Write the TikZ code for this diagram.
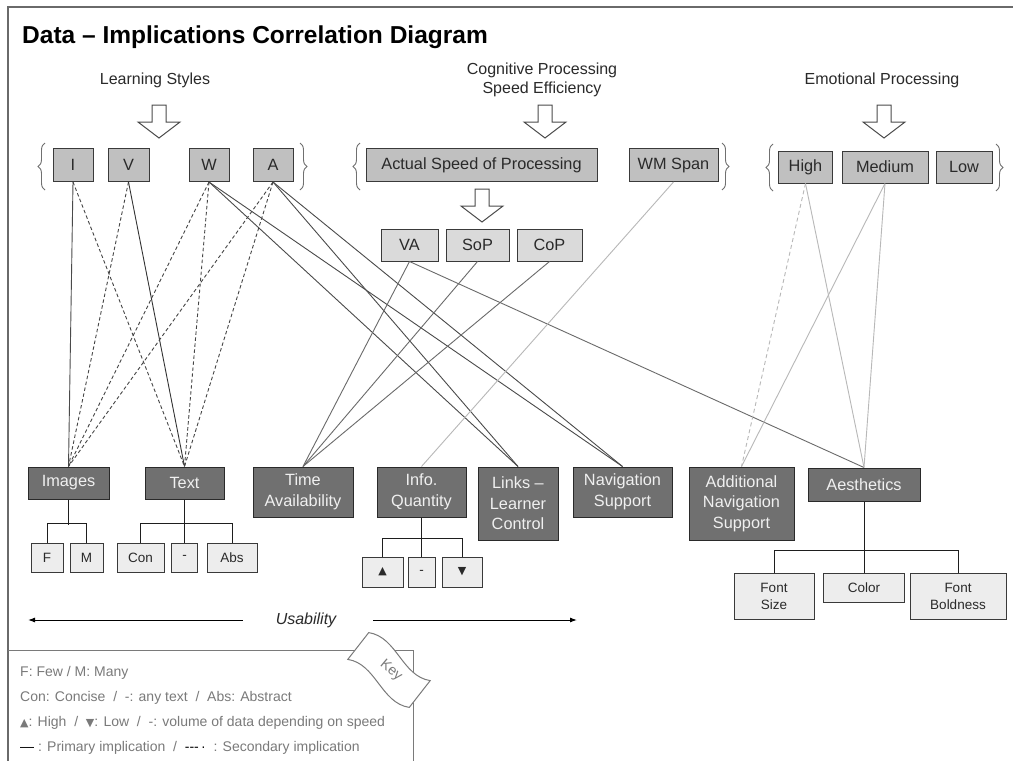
\documentclass[tikz,border=0pt]{standalone}
\usepackage{fontspec}
\setmainfont{Liberation Sans}
\newfontfamily\symfont{DejaVu Sans}
\usetikzlibrary{decorations.pathreplacing,arrows.meta}
\definecolor{topfill}{HTML}{C0C0C0}
\definecolor{midfill}{HTML}{DADADA}
\definecolor{darkfill}{HTML}{707070}
\definecolor{subfill}{HTML}{EDEDED}
\definecolor{boxline}{HTML}{3A3A3A}
\definecolor{darkline}{HTML}{2A2A2A}
\definecolor{txt}{HTML}{2A2A2A}
\definecolor{darktxt}{HTML}{F0F0F0}
\definecolor{primc}{HTML}{4A4A4A}
\definecolor{secc}{HTML}{454545}
\definecolor{midc}{HTML}{6A6A6A}
\definecolor{lightc}{HTML}{B8B8B8}
\definecolor{treec}{HTML}{1E1E1E}
\definecolor{bracec}{HTML}{707070}
\definecolor{arrowc}{HTML}{4A4A4A}
\definecolor{framec}{HTML}{6A6A6A}
\definecolor{keyc}{HTML}{7A7A7A}
\newcommand\titlefnt{\fontsize{24.5}{28}\selectfont\bfseries}
\newcommand\lblfnt{\fontsize{16}{19}\selectfont}
\newcommand\boxfnt{\fontsize{16.3}{20.5}\selectfont}
\newcommand\subfnt{\fontsize{13.5}{17}\selectfont}
\newcommand\keyfnt{\fontsize{14}{16}\selectfont}
\tikzset{
  box/.style={draw=boxline, line width=1pt, inner sep=0pt, align=center, font=\boxfnt},
  topbox/.style={box, fill=topfill, text=txt},
  midbox/.style={box, fill=midfill, text=txt},
  darkbox/.style={box, fill=darkfill, text=darktxt, draw=darkline},
  subbox/.style={box, fill=subfill, text=txt, font=\subfnt},
  prim/.style={draw=primc, line width=0.9pt},
  sec/.style={draw=secc, line width=0.9pt, dash pattern=on 3.5pt off 2.5pt},
  midline/.style={draw=midc, line width=0.9pt},
  light/.style={draw=lightc, line width=0.9pt},
  lightdash/.style={draw=lightc, line width=0.9pt, dash pattern=on 4pt off 3pt},
  tree/.style={draw=treec, line width=1pt},
  bracestyle/.style={draw=bracec, line width=0.9pt, decorate, decoration={brace, amplitude=7pt}},
  blockarrow/.style={draw=arrowc, line width=1pt, fill=white, line join=miter},
  lbl/.style={font=\lblfnt, text=txt, align=center, inner sep=0pt},
  keytext/.style={font=\keyfnt, text=keyc, anchor=west, inner sep=0pt},
  usearrow/.style={draw=black, line width=1pt, -{Latex[length=7pt,width=5pt]}},
}
\begin{document}
\begin{tikzpicture}[x=1pt,y=-1pt]
\useasboundingbox (0,0) rectangle (1013,761);
\fill[white] (0,0) rectangle (1013,761);
% frame
\draw[draw=framec, line width=2pt] (8,761) -- (8,7) -- (1013,7);
% title
\node[anchor=base west, inner sep=0pt, font=\titlefnt] (title) at (22,43) {Data – Implications Correlation Diagram};
% group labels
\node[lbl] (lsl) at (155,80) {Learning Styles};
\node[lbl] (cpl) at (542,80) {Cognitive Processing\\Speed Efficiency};
\node[lbl] (epl) at (882,80) {Emotional Processing};
% block arrows
\foreach \cx/\ty in {159/105, 545/105, 884/105, 482/189}{
  \draw[blockarrow, shift={(\cx,\ty)}] (-7,0) -- (7,0) -- (7,17) -- (21,17) -- (0,33) -- (-21,17) -- (-7,17) -- cycle;
}
% braces
\draw[bracestyle] (45,190) -- (45,143);
\draw[bracestyle] (300,143) -- (300,190);
\draw[bracestyle] (360,190) -- (360,143);
\draw[bracestyle] (722,143) -- (722,190);
\draw[bracestyle] (773,191) -- (773,144);
\draw[bracestyle] (996,144) -- (996,191);
% top boxes
\node[topbox, minimum width=40, minimum height=33] (I) at (73,165) {I};
\node[topbox, minimum width=41, minimum height=33] (V) at (128.5,165) {V};
\node[topbox, minimum width=40, minimum height=33] (W) at (209,165) {W};
\node[topbox, minimum width=40, minimum height=33] (A) at (273,165) {A};
\node[topbox, minimum width=231, minimum height=33] (ASP) at (481.5,165) {Actual Speed of Processing};
\node[topbox, minimum width=89, minimum height=33] (WM) at (673.5,165) {WM Span};
\node[topbox, minimum width=54, minimum height=32] (High) at (805.5,167) {High};
\node[topbox, minimum width=86, minimum height=32] (Medium) at (885,167) {Medium};
\node[topbox, minimum width=56, minimum height=32] (Low) at (964,167) {Low};
% mid boxes
\node[midbox, minimum width=57, minimum height=32] (VA) at (409.5,245) {VA};
\node[midbox, minimum width=63, minimum height=32] (SoP) at (477.5,245) {SoP};
\node[midbox, minimum width=65, minimum height=32] (CoP) at (549.5,245) {CoP};
% bottom boxes
\node[darkbox, minimum width=81, minimum height=32] (Images) at (68.5,483) {Images};
\node[darkbox, minimum width=79, minimum height=32] (Text) at (184.5,483) {Text};
\node[darkbox, minimum width=100, minimum height=50] (Time) at (303,492) {Time\\Availability};
\node[darkbox, minimum width=89, minimum height=50] (Info) at (421.5,492) {Info.\\Quantity};
\node[darkbox, minimum width=80, minimum height=73] (Links) at (518,503.5) {Links –\\Learner\\Control};
\node[darkbox, minimum width=99, minimum height=50] (Nav) at (622.5,492) {Navigation\\Support};
\node[darkbox, minimum width=105, minimum height=73] (Addl) at (741.5,503.5) {Additional\\Navigation\\Support};
\node[darkbox, minimum width=112, minimum height=33] (Aesth) at (864,484.5) {Aesthetics};
% sub boxes
\node[subbox, minimum width=32, minimum height=29] (F) at (47,557.5) {F};
\node[subbox, minimum width=33, minimum height=29] (M) at (86.5,557.5) {M};
\node[subbox, minimum width=47, minimum height=29] (Con) at (140.5,557.5) {Con};
\node[subbox, minimum width=26, minimum height=29] (Tdash) at (184.5,557.5) {-};
\node[subbox, minimum width=50, minimum height=29] (Abs) at (232,557.5) {Abs};
\node[subbox, minimum width=41, minimum height=30] (Up) at (382.5,572) {\symfont\fontsize{11}{13}\selectfont ▲};
\node[subbox, minimum width=27, minimum height=30] (Idash) at (421.5,572) {-};
\node[subbox, minimum width=40, minimum height=30] (Down) at (462,572) {\symfont\fontsize{11}{13}\selectfont ▼};
\node[subbox, minimum width=80, minimum height=46] (FS) at (774,596.5) {Font\\Size};
\node[subbox, minimum width=81, minimum height=29] (Col) at (864,588) {Color};
\node[subbox, minimum width=96, minimum height=46] (FB) at (958,596.5) {Font\\Boldness};
% tree connectors
\draw[tree] (Images.south) -- ++(0,25);
\draw[tree] (F.north) -- ++(0,-19) -| (M.north);
\draw[tree] (Text.south) -- (Tdash.north);
\draw[tree] (Con.north) -- ++(0,-19) -| (Abs.north);
\draw[tree] (Info.south) -- (Idash.north);
\draw[tree] (Up.north) -- ++(0,-18) -| (Down.north);
\draw[tree] (Aesth.south) -- (Col.north);
\draw[tree] (FS.north) -- ++(0,-22.5) -| (FB.north);
% learning style connectors
\draw[prim] (I.south) -- (Images.north);
\draw[sec] (I.south) -- (Text.north);
\draw[sec] (V.south) -- (Images.north);
\draw[prim, draw=black!80] (V.south) -- (Text.north);
\draw[sec] (W.south) -- (Images.north);
\draw[sec] (W.south) -- (Text.north);
\draw[sec] (A.south) -- (Images.north);
\draw[sec] (A.south) -- (Text.north);
\draw[prim] (W.south) -- (Links.north);
\draw[prim] (W.south) -- (Nav.north);
\draw[prim] (A.south) -- (Links.north);
\draw[prim] (A.south) -- (Nav.north);
% cognitive connectors
\draw[midline] (VA.south) -- (Time.north);
\draw[midline] (SoP.south) -- (Time.north);
\draw[midline] (CoP.south) -- (Time.north);
\draw[midline] (VA.south) -- (Aesth.north);
\draw[light] (WM.south) -- (Info.north);
% emotional connectors
\draw[lightdash] (High.south) -- (Addl.north);
\draw[light] (High.south) -- (Aesth.north);
\draw[light] (Medium.south) -- (Addl.north);
\draw[light] (Medium.south) -- (Aesth.north);
% usability
\node[font=\fontsize{16}{19}\selectfont\itshape, text=txt, inner sep=0pt] (usab) at (306,620) {Usability};
\coordinate (uL) at (28,620);
\coordinate (uR) at (577,620);
\draw[usearrow, shorten <=33pt] (usab.west) -- (uL);
\draw[usearrow, shorten <=37pt] (usab.east) -- (uR);
% key
\draw[draw=keyc, line width=1pt] (8,650) -- (413,650) -- (413,761);
\begin{scope}[shift={(389,670)}, rotate=-38]
\draw[draw=keyc, line width=1pt, fill=white] (-39,-17) .. controls (-14,-31) and (14,-3) .. (39,-17) -- (39,17) .. controls (14,31) and (-14,3) .. (-39,17) -- cycle;
\end{scope}
\node[font=\keyfnt, text=keyc, rotate=-40, inner sep=0pt] (keylbl) at (391,671) {Key};
\node[keytext] (k1) at (20,673) {F: Few / M: Many};
\node[keytext] (k2) at (20,698) {Con: Concise \ / \ -: any text \ / \ Abs: Abstract};
\node[keytext] (k3) at (20,723) {{\symfont\fontsize{11}{13}\selectfont ▲}: High \ / \ {\symfont\fontsize{11}{13}\selectfont ▼}: Low \ / \ -: volume of data depending on speed};
\node[keytext] (k4) at (20,748) {{\color{black}—} : Primary implication \ / \ {\color{black}-{}-{}-\,·} \ : Secondary implication};
\end{tikzpicture}
\end{document}
